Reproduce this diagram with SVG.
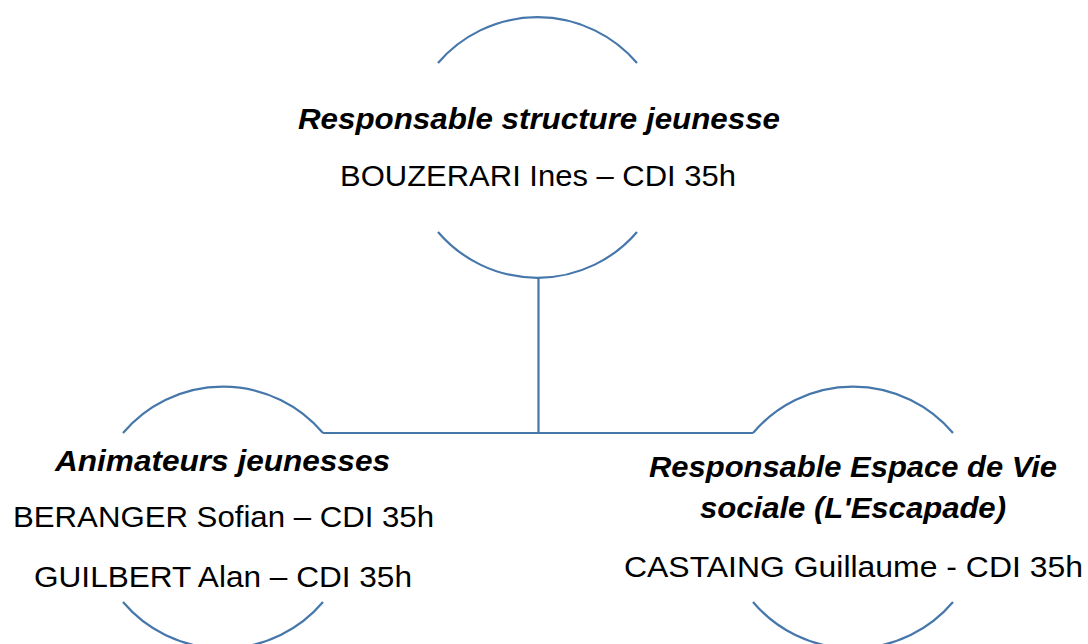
<svg xmlns="http://www.w3.org/2000/svg" width="1088" height="644" viewBox="0 0 1088 644">
<style>
.arc{fill:none;stroke:#4677ab;stroke-width:2.2}
.con{fill:none;stroke:#4677ab;stroke-width:2.2}
.t{font-family:"Liberation Sans",Arial,sans-serif;font-size:29px;fill:#000;text-anchor:middle}
.h{font-weight:bold;font-style:italic}
</style>
<rect width="1088" height="644" fill="#fff"/>
<g id="connectors">
<path class="con" d="M538.5,278 V433 M323,433 H753"/>
</g>
<g id="node-top">
<path class="arc" d="M438,63 A131,131 0 0 1 637,63"/>
<path class="arc" d="M438,232 A131,131 0 0 0 637,232"/>
<text class="t h" x="539" y="129" textLength="482" lengthAdjust="spacingAndGlyphs">Responsable structure jeunesse</text>
<text class="t" x="538" y="186" textLength="396" lengthAdjust="spacingAndGlyphs">BOUZERARI Ines – CDI 35h</text>
</g>
<g id="node-left">
<path class="arc" d="M123,433 A131,131 0 0 1 323,433"/>
<path class="arc" d="M123,602 A131,131 0 0 0 323,602"/>
<text class="t h" x="222.5" y="471" textLength="335" lengthAdjust="spacingAndGlyphs">Animateurs jeunesses</text>
<text class="t" x="223.5" y="527" textLength="421" lengthAdjust="spacingAndGlyphs">BERANGER Sofian – CDI 35h</text>
<text class="t" x="223" y="587" textLength="378" lengthAdjust="spacingAndGlyphs">GUILBERT Alan – CDI 35h</text>
</g>
<g id="node-right">
<path class="arc" d="M753,433 A131,131 0 0 1 953,433"/>
<path class="arc" d="M753,602 A131,131 0 0 0 953,602"/>
<text class="t h" x="853" y="477" textLength="408" lengthAdjust="spacingAndGlyphs">Responsable Espace de Vie</text>
<text class="t h" x="853" y="518" textLength="306" lengthAdjust="spacingAndGlyphs">sociale (L'Escapade)</text>
<text class="t" x="853.5" y="577" textLength="459" lengthAdjust="spacingAndGlyphs">CASTAING Guillaume - CDI 35h</text>
</g>
</svg>
